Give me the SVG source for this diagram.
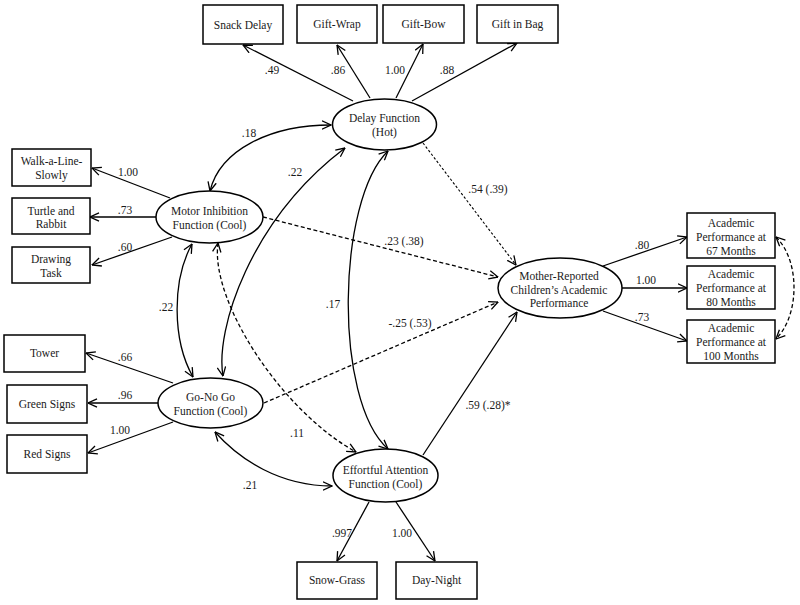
<svg xmlns="http://www.w3.org/2000/svg" width="800" height="605" viewBox="0 0 800 605">
<defs>
<marker id="ah" viewBox="0 0 10 10" refX="9.5" refY="5" markerWidth="10" markerHeight="10" markerUnits="userSpaceOnUse" orient="auto-start-reverse">
<path d="M0.5,0.8 L9.5,5 L0.5,9.2" fill="none" stroke="#000" stroke-width="1.3"/>
</marker>
<style>
.box{fill:#fff;stroke:#000;stroke-width:1.5}
.ell{fill:#fff;stroke:#000;stroke-width:1.5}
text{font-family:"Liberation Serif","Times New Roman",serif;font-size:11.5px;fill:#1a1a1a;text-anchor:middle}
.c{fill:none;stroke:#000;stroke-width:1.3}
.a{marker-end:url(#ah)}
.b{marker-start:url(#ah);marker-end:url(#ah)}
.d{stroke-dasharray:4,2.5}
.f{stroke-dasharray:2.5,2;stroke-width:1.1}
</style>
</defs>
<rect width="800" height="605" fill="#fff"/>

<g id="connectors">
<path class="c a" d="M353,101 L243,45"/>
<path class="c a" d="M370,98 L337,45"/>
<path class="c a" d="M396,98 L423,44"/>
<path class="c a" d="M412,101 L517,43"/>
<path class="c a" d="M170,198 L92,168"/>
<path class="c a" d="M156,217 L90,217"/>
<path class="c a" d="M172,237 L92,265"/>
<path class="c a" d="M173,383 L86,353"/>
<path class="c a" d="M158,403 L88,403"/>
<path class="c a" d="M173,422 L88,453"/>
<path class="c a" d="M369,502 L337,561"/>
<path class="c a" d="M396,502 L435,561"/>
<path class="c a" d="M603,266 L687,237"/>
<path class="c a" d="M622,288 L687,288"/>
<path class="c a" d="M603,311 L687,341"/>
<path class="c b" d="M210,191 C220,150 270,125 331,125"/>
<path class="c b" d="M192,244 C172,280 172,340 193,377"/>
<path class="c b" d="M223,376 C215,330 250,220 345,148"/>
<path class="c b" d="M388,151 C337,200 333,400 388,449"/>
<path class="c b" d="M215,432 C240,460 280,486 332,486"/>
<path class="c b d" d="M218,243 C210,300 280,410 356,452"/>
<path class="c a d" d="M263,217 L498,277"/>
<path class="c a d" d="M264,403 L498,302"/>
<path class="c a f" d="M423,143 L516,265"/>
<path class="c a" d="M423,455 L517,312"/>
<path class="c b d" d="M776,237 C800,260 800,315 776,339"/>
</g>

<g id="n-snack"><rect class="box" x="203" y="5" width="80" height="39"/><text x="243" y="28.5">Snack Delay</text></g>
<g id="n-giftwrap"><rect class="box" x="297" y="5" width="80" height="38"/><text x="337" y="28">Gift-Wrap</text></g>
<g id="n-giftbow"><rect class="box" x="383" y="5" width="81" height="38"/><text x="423.5" y="28">Gift-Bow</text></g>
<g id="n-giftbag"><rect class="box" x="477" y="5" width="81" height="38"/><text x="517.5" y="28">Gift in Bag</text></g>

<g id="n-walk"><rect class="box" x="12" y="149" width="79" height="37"/><text x="51.5" y="165">Walk-a-Line-</text><text x="51.5" y="178.5">Slowly</text></g>
<g id="n-turtle"><rect class="box" x="12" y="198" width="78" height="36"/><text x="51" y="214.5">Turtle and</text><text x="51" y="228">Rabbit</text></g>
<g id="n-drawing"><rect class="box" x="12" y="247" width="78" height="36"/><text x="51" y="263">Drawing</text><text x="51" y="277">Task</text></g>

<g id="n-tower"><rect class="box" x="4" y="335" width="81" height="37"/><text x="44.5" y="357">Tower</text></g>
<g id="n-green"><rect class="box" x="7" y="385" width="80" height="38"/><text x="47" y="408">Green Signs</text></g>
<g id="n-red"><rect class="box" x="7" y="435" width="80" height="38"/><text x="47" y="458">Red Signs</text></g>

<g id="n-delay"><ellipse class="ell" cx="384.5" cy="124.5" rx="52" ry="25.5"/><text x="384.5" y="122">Delay Function</text><text x="384.5" y="136">(Hot)</text></g>
<g id="n-motor"><ellipse class="ell" cx="209.5" cy="217" rx="53.5" ry="26"/><text x="209.5" y="215">Motor Inhibition</text><text x="209.5" y="228.5">Function (Cool)</text></g>
<g id="n-gonogo"><ellipse class="ell" cx="210.5" cy="403" rx="52.5" ry="25"/><text x="210.5" y="401">Go-No Go</text><text x="210.5" y="415">Function (Cool)</text></g>
<g id="n-effortful"><ellipse class="ell" cx="385.5" cy="475.5" rx="52.5" ry="26.5"/><text x="385.5" y="474">Effortful Attention</text><text x="385.5" y="488">Function (Cool)</text></g>
<g id="n-mother"><ellipse class="ell" cx="560" cy="288" rx="62" ry="30"/><text x="559" y="280">Mother-Reported</text><text x="559" y="293.5">Children’s Academic</text><text x="559" y="307">Performance</text></g>

<g id="n-ap67"><rect class="box" x="687" y="213" width="88" height="45"/><text x="731" y="227">Academic</text><text x="731" y="241">Performance at</text><text x="731" y="254.5">67 Months</text></g>
<g id="n-ap80"><rect class="box" x="687" y="266" width="88" height="43"/><text x="731" y="278">Academic</text><text x="731" y="292">Performance at</text><text x="731" y="305.5">80 Months</text></g>
<g id="n-ap100"><rect class="box" x="687" y="320" width="88" height="43"/><text x="731" y="332">Academic</text><text x="731" y="346">Performance at</text><text x="731" y="359.5">100 Months</text></g>

<g id="n-snow"><rect class="box" x="297" y="562" width="80" height="37"/><text x="337" y="584">Snow-Grass</text></g>
<g id="n-day"><rect class="box" x="396" y="562" width="81" height="37"/><text x="436.5" y="584">Day-Night</text></g>

<g id="labels">
<text x="272" y="74">.49</text>
<text x="338" y="74">.86</text>
<text x="395" y="74">1.00</text>
<text x="447" y="74">.88</text>
<text x="249" y="137">.18</text>
<text x="295" y="176">.22</text>
<text x="128" y="176">1.00</text>
<text x="125" y="214">.73</text>
<text x="125" y="251">.60</text>
<text x="166" y="311">.22</text>
<text x="333" y="308">.17</text>
<text x="488" y="193">.54 (.39)</text>
<text x="404" y="245">.23 (.38)</text>
<text x="410" y="327">-.25 (.53)</text>
<text x="125" y="361">.66</text>
<text x="125" y="399">.96</text>
<text x="120" y="434">1.00</text>
<text x="297" y="437">.11</text>
<text x="250" y="489">.21</text>
<text x="488" y="409">.59 (.28)*</text>
<text x="642" y="249">.80</text>
<text x="646" y="284">1.00</text>
<text x="642" y="321">.73</text>
<text x="342" y="537">.997</text>
<text x="402" y="537">1.00</text>
</g>
</svg>
